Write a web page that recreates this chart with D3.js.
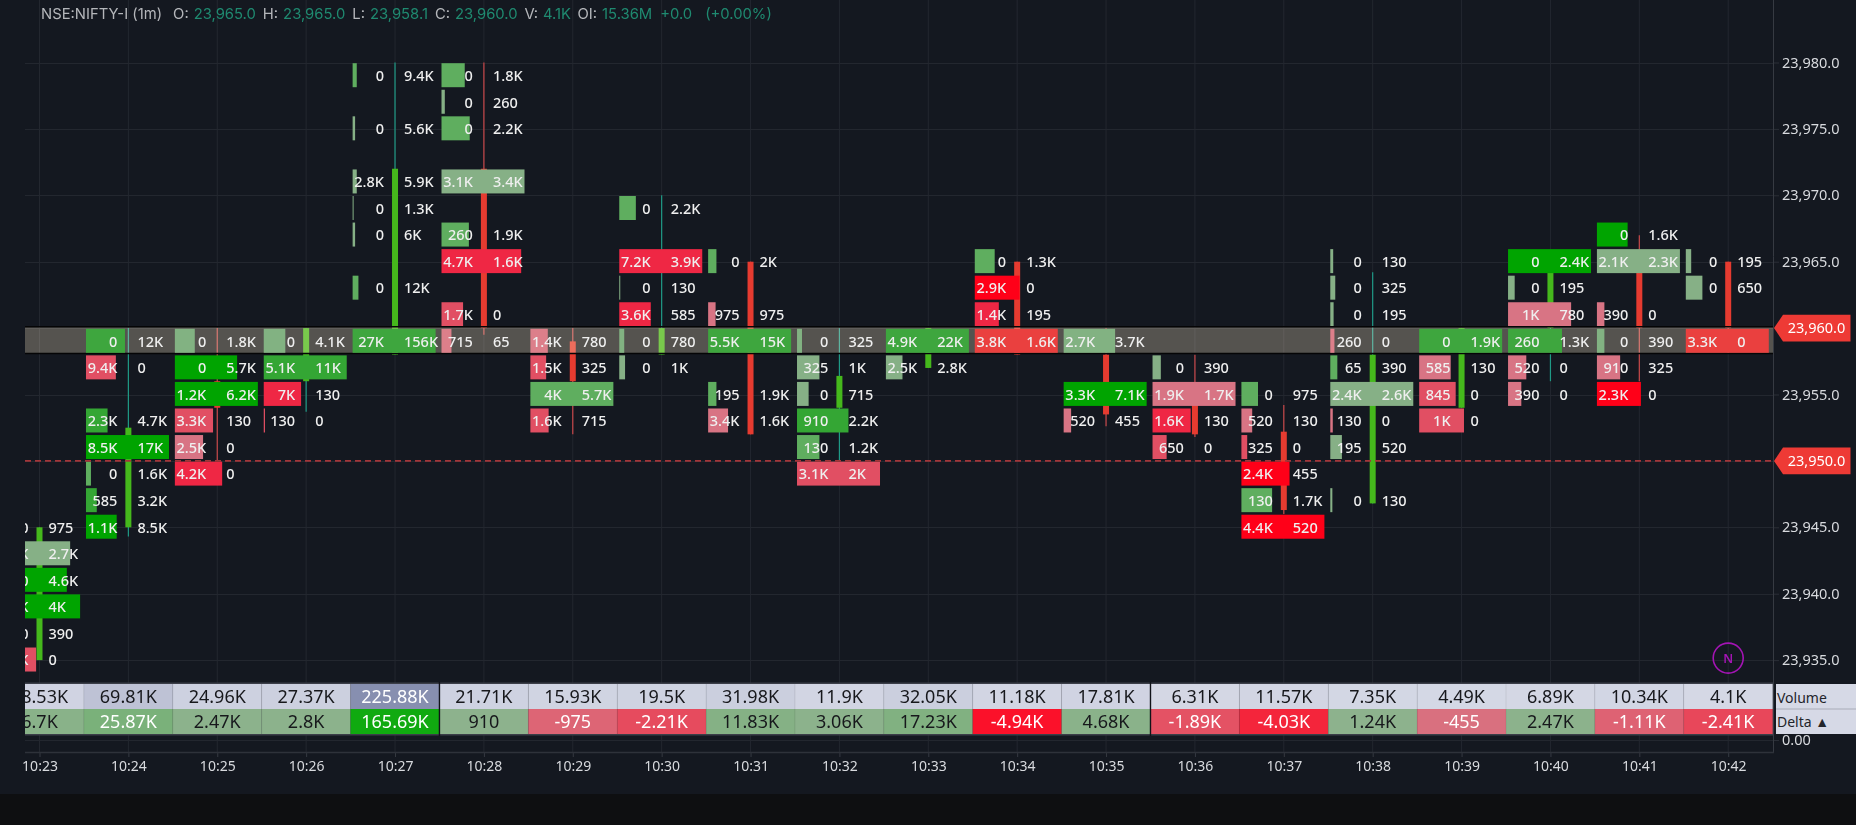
<!DOCTYPE html>
<html>
<head>
<meta charset="utf-8">
<script src="https://cdn.jsdelivr.net/npm/d3@7/dist/d3.min.js"></script>
<style>
  html, body { margin: 0; padding: 0; background: #0e0f11; }
  svg { display: block; }
  text { font-family: "Noto Sans", sans-serif; }
</style>
</head>
<body>
<svg id="chart" width="1856" height="825"></svg>
<script>
// Instrument header
const symbolName = "NSE:NIFTY-I (1m)";
const headerFields = [["O:", "23,965.0"], ["H:", "23,965.0"], ["L:", "23,958.1"], ["C:", "23,960.0"], ["V:", "4.1K"], ["OI:", "15.36M"]];
const headerChange = ["+0.0", "(+0.00%)"];

// One entry per one-minute bar
const minutes = ["10:23","10:24","10:25","10:26","10:27","10:28","10:29","10:30","10:31","10:32","10:33","10:34","10:35","10:36","10:37","10:38","10:39","10:40","10:41","10:42"];
const opens  = [23935,23945,23956,23956,23958,23972,23959,23958,23965,23954,23957,23965,23958,23955,23952.2,23946.8,23954,23960,23965,23965];
const closes = [23945,23952.5,23954,23960,23972,23960,23956,23960,23952,23956.4,23960,23958,23953.5,23952,23946.3,23958,23960,23965,23960,23960];
const highs  = [23945,23960,23960,23960,23980,23980,23960,23970,23965,23960,23960,23965,23960,23958,23954.2,23964.2,23960,23965,23967,23965];
const lows   = [23935,23944.3,23950,23953.7,23958,23959.5,23952,23958,23952,23950,23957,23958,23952.6,23951.8,23946,23946.8,23954,23956,23956,23958.1];
const volumeTotals = [18530,69810,24960,27370,225880,21710,15930,19500,31980,11900,32050,11180,17810,6310,11570,7350,4490,6890,10340,4100];
const deltaTotals  = [6700,25870,2470,2800,165690,910,-975,-2210,11830,3060,17230,-4940,4680,-1890,-4030,1240,-455,2470,-1110,-2410];

// Price levels of one bar: [price, sell volume, buy volume, share of the largest level, imbalance grade]
const levels1023 = [[23945,0,975,0.1,1],[23943,2400,2700,0.88,1],[23941,0,4600,0.84,4],[23939,1000,4000,1,4],[23937,0,390,0.1,1],[23935,1600,0,0.47,-2]];
const levels1024 = [[23959,0,12000,0.47,4],[23957,9400,0,0.36,-2],[23953,2300,4700,0.26,3],[23951,8500,17000,1,4],[23949,0,1600,0.06,2],[23947,585,3200,0.13,3],[23945,1100,8500,0.37,4]];
const levels1025 = [[23959,0,1800,0.24,1],[23957,0,5700,0.75,4],[23955,1200,6200,1,4],[23953,3300,130,0.46,-2],[23951,2500,0,0.34,-1],[23949,4200,0,0.57,-3]];
const levels1026 = [[23959,0,4100,0.26,1],[23957,5100,11000,1,3],[23955,7000,130,0.45,-3],[23953,130,0,0.015,-2]];
const levels1027 = [[23979,0,9400,0.05,2],[23975,0,5600,0.03,1],[23971,2800,5900,0.05,1],[23969,0,1300,0.012,1],[23967,0,6000,0.03,1],[23963,0,12000,0.07,2],[23959,27000,156000,1,4]];
const levels1028 = [[23979,0,1800,0.28,2],[23977,0,260,0.04,1],[23975,0,2200,0.34,2],[23971,3100,3400,1,1],[23967,260,1900,0.33,2],[23965,4700,1600,0.96,-3],[23961,1700,0,0.26,-2],[23959,715,65,0.12,-1]];
const levels1029 = [[23959,1400,780,0.21,-1],[23957,1500,325,0.19,-2],[23955,4000,5700,1,2],[23953,1600,715,0.22,-2]];
const levels1030 = [[23969,0,2200,0.2,2],[23965,7200,3900,1,-3],[23963,0,130,0.012,1],[23961,3600,585,0.38,-3],[23959,0,780,0.06,1],[23957,0,1000,0.07,1]];
const levels1031 = [[23965,0,2000,0.1,2],[23961,975,975,0.09,-1],[23959,5500,15000,1,4],[23955,195,1900,0.1,2],[23953,3400,1600,0.24,-1]];
const levels1032 = [[23959,0,325,0.06,1],[23957,325,1000,0.27,1],[23955,0,715,0.14,1],[23953,910,2200,0.62,3],[23951,130,1200,0.27,2],[23949,3100,2000,1,-2]];
const levels1033 = [[23959,4900,22000,1,4],[23957,2500,2800,0.2,1]];
const levels1034 = [[23965,0,1300,0.24,2],[23963,2900,0,0.54,-4],[23961,1400,195,0.29,-3],[23959,3800,1600,1,-3]];
const levels1035 = [[23959,2700,3700,0.62,1],[23955,3300,7100,1,4],[23953,520,455,0.09,-1]];
const levels1036 = [[23957,0,390,0.1,1],[23955,1900,1700,1,-1],[23953,1600,130,0.46,-3],[23951,650,0,0.17,-2]];
const levels1037 = [[23955,0,975,0.2,2],[23953,520,130,0.13,-1],[23951,325,0,0.07,-2],[23949,2400,455,0.58,-4],[23947,130,1700,0.37,2],[23945,4400,520,1,-4]];
const levels1038 = [[23965,0,130,0.035,1],[23963,0,325,0.06,1],[23961,0,195,0.04,1],[23959,260,0,0.05,-1],[23957,65,390,0.085,2],[23955,2400,2600,1,1],[23953,130,0,0.03,-1],[23951,195,520,0.14,1],[23947,0,130,0.025,1]];
const levels1039 = [[23959,0,1900,1,4],[23957,585,130,0.38,-1],[23955,845,0,0.44,-2],[23953,1000,0,0.54,-2]];
const levels1040 = [[23965,0,2400,1,4],[23963,0,195,0.08,1],[23961,1000,780,0.76,-1],[23959,260,1300,0.65,4],[23957,520,0,0.22,-1],[23955,390,0,0.16,-1]];
const levels1041 = [[23967,0,1600,0.37,4],[23965,2100,2300,1,1],[23961,390,0,0.09,-1],[23959,0,390,0.09,1],[23957,910,325,0.28,-1],[23955,2300,0,0.53,-4]];
const levels1042 = [[23965,0,195,0.065,1],[23963,0,650,0.2,1],[23959,3300,0,1,-3]];
const barLevels = [levels1023,levels1024,levels1025,levels1026,levels1027,levels1028,levels1029,levels1030,levels1031,levels1032,levels1033,levels1034,levels1035,levels1036,levels1037,levels1038,levels1039,levels1040,levels1041,levels1042];

// Axis, reference lines and table breaks
const priceTicks = [23935,23940,23945,23950,23955,23960,23965,23970,23975,23980];
const priceMarkers = [23960, 23950];
const currentLevel = 23959;
const levelStep = 2;
const sessionBreaks = [5, 13];
const tableRowNames = ["Volume", "Delta ▲"];

const gradeColors = new Map([
  [4,"#00a400"],[3,"#34a634"],[2,"#5fae5f"],[1,"#86b086"],
  [-1,"#d87484"],[-2,"#e14f63"],[-3,"#ef2744"],[-4,"#ff0018"]
]);
// The same grades where they sit on the highlighted row
const rowGradeColors = new Map([
  [4,"#3ea63e"],[3,"#3ea63e"],[2,"#5fae5f"],[1,"#82b282"],
  [-1,"#dc7f8a"],[-2,"#e14f63"],[-3,"#ea403f"],[-4,"#ea403f"]
]);

const W = 1856, PLOT_L = 25, PLOT_R = 1773, TABLE_T = 684, TABLE_M = 709, TABLE_B = 734, AXIS_Y = 752, FOOT_Y = 794;
const BAR_SPAN = 83, BAR_LEFT = 42.4, BODY_W = 6;

const x = d3.scaleLinear().domain([0, 19]).range([39.5, 1728.2]);
const y = d3.scaleLinear().domain([23965, 23945]).range([261.7, 527.3]);
const zeroY = d3.scaleLinear().domain([0, 1]).range([740, 729]);
const spanX = d3.scaleLinear().domain([0, 1]).range([0, BAR_SPAN]);
const colW = x(1) - x(0);
const rowGap = y(currentLevel - levelStep) - y(currentLevel);

const volumeFill = d3.scaleLinear().domain([0, 225880]).range(["#d6d9e6", "#878fb0"]);
const lossFill = d3.scaleLinear().domain([0, 5000]).range(["#d67a88", "#fb1029"]).clamp(true);
const gainFill = d3.scaleLinear().domain([0, 165690]).range(["#8eb28e", "#10aa10"]);

function compact(v) {
  const a = Math.abs(v);
  if (a < 1000) return String(v);
  const digits = a >= 10000 ? 0 : 1;
  return (v / 1000).toFixed(digits).replace(/\.0$/, "") + "K";
}
function totalLabel(v) {
  const a = Math.abs(v);
  if (a < 1000) return String(v);
  return String(+(v / 1000).toFixed(2)) + "K";
}

const svg = d3.select("#chart").attr("viewBox", `0 0 ${W} 825`);
const defs = svg.append("defs");
defs.append("clipPath").attr("id", "plot-clip").append("rect")
  .attr("x", PLOT_L).attr("y", 0).attr("width", PLOT_R - PLOT_L).attr("height", TABLE_T);
defs.append("clipPath").attr("id", "table-clip").append("rect")
  .attr("x", PLOT_L).attr("y", TABLE_T - 2).attr("width", PLOT_R - PLOT_L).attr("height", TABLE_B - TABLE_T + 4);

// Backdrop
svg.append("rect").attr("width", W).attr("height", 825).attr("fill", "#0e0f11");
svg.append("rect").attr("width", W).attr("height", FOOT_Y).attr("fill", "#141820");

// Grid
const grid = svg.append("g").attr("stroke", "#23272f").attr("stroke-width", 1);
grid.selectAll("line.v").data(minutes).join("line").attr("class", "v")
  .attr("x1", (d, i) => x(i)).attr("x2", (d, i) => x(i)).attr("y1", 0).attr("y2", AXIS_Y);
grid.selectAll("line.h").data(priceTicks).join("line").attr("class", "h")
  .attr("x1", PLOT_L).attr("x2", PLOT_R).attr("y1", d => Math.round(y(d)) + .5).attr("y2", d => Math.round(y(d)) + .5);
grid.append("line").attr("x1", PLOT_L).attr("x2", PLOT_R).attr("y1", zeroY(0) + .5).attr("y2", zeroY(0) + .5);

// Candles
const plot = svg.append("g").attr("clip-path", "url(#plot-clip)");
const isUp = i => closes[i] >= opens[i];
plot.selectAll("line.wick").data(minutes).join("line").attr("class", "wick")
  .attr("x1", (d, i) => x(i)).attr("x2", (d, i) => x(i))
  .attr("y1", (d, i) => y(highs[i])).attr("y2", (d, i) => y(lows[i]))
  .attr("stroke", (d, i) => isUp(i) ? "#1f9a86" : "#c8484a").attr("stroke-width", 1.2);
plot.selectAll("rect.body").data(minutes).join("rect").attr("class", "body")
  .attr("x", (d, i) => x(i) - BODY_W / 2).attr("width", BODY_W)
  .attr("y", (d, i) => y(Math.max(opens[i], closes[i])))
  .attr("height", (d, i) => Math.abs(y(opens[i]) - y(closes[i])))
  .attr("fill", (d, i) => isUp(i) ? "#45b81c" : "#e63b30");

// Footprint bars for each price level
const flat = barLevels.flatMap((rows, i) => rows.map(r => ({ i, price: r[0], sell: r[1], buy: r[2], share: r[3], grade: r[4] })));
const levelTop = d => y(d.price + levelStep / 2) + 0.7;
const drawLevels = (parent, rows, palette) => parent.selectAll("rect.level").data(rows).join("rect").attr("class", "level")
  .attr("x", d => x(d.i) - BAR_LEFT).attr("y", levelTop)
  .attr("width", d => spanX(d.share)).attr("height", 24)
  .attr("fill", d => palette.get(d.grade));
drawLevels(plot, flat.filter(d => d.price !== currentLevel), gradeColors);

// Highlighted row of the last traded level, lightening what lies beneath it
const rowTop = y(currentLevel + levelStep / 2) - 1.4, rowH = rowGap + 0.2;
svg.append("rect").attr("x", PLOT_L).attr("width", PLOT_R - PLOT_L)
  .attr("y", rowTop).attr("height", rowH)
  .attr("fill", "rgb(71,65,54)").style("mix-blend-mode", "screen");
svg.append("g").attr("stroke", "#050506").attr("stroke-width", 1.6)
  .selectAll("line").data([rowTop, rowTop + rowH]).join("line")
  .attr("x1", PLOT_L).attr("x2", PLOT_R).attr("y1", d => d).attr("y2", d => d);
drawLevels(svg.append("g").attr("clip-path", "url(#plot-clip)"), flat.filter(d => d.price === currentLevel), rowGradeColors);

// Reference price line
svg.append("line").attr("x1", PLOT_L).attr("x2", PLOT_R)
  .attr("y1", y(priceMarkers[1])).attr("y2", y(priceMarkers[1]))
  .attr("stroke", "#a3363a").attr("stroke-width", 1.6).attr("stroke-dasharray", "6 4");

// Sell and buy volumes beside each bar centre
const valueText = svg.append("g").attr("clip-path", "url(#plot-clip)")
  .attr("fill", "#efefef").attr("font-size", 14.5).attr("font-weight", 500);
valueText.selectAll("text.sell").data(flat).join("text").attr("class", "sell")
  .attr("x", d => x(d.i) - 11).attr("y", d => y(d.price)).attr("dy", "0.36em")
  .attr("text-anchor", "end").text(d => compact(d.sell));
valueText.selectAll("text.buy").data(flat).join("text").attr("class", "buy")
  .attr("x", d => x(d.i) + 9).attr("y", d => y(d.price)).attr("dy", "0.36em")
  .text(d => compact(d.buy));

// Volume and delta table
const table = svg.append("g").attr("clip-path", "url(#table-clip)");
table.append("rect").attr("x", PLOT_L).attr("width", PLOT_R - PLOT_L).attr("y", TABLE_T - 1.5)
  .attr("height", TABLE_B - TABLE_T + 3).attr("fill", "#3b3e48");
table.selectAll("rect.vol").data(volumeTotals).join("rect").attr("class", "vol")
  .attr("x", (d, i) => x(i) - colW / 2).attr("width", colW).attr("y", TABLE_T).attr("height", TABLE_M - TABLE_T)
  .attr("fill", d => volumeFill(d));
table.selectAll("rect.del").data(deltaTotals).join("rect").attr("class", "del")
  .attr("x", (d, i) => x(i) - colW / 2).attr("width", colW).attr("y", TABLE_M).attr("height", TABLE_B - TABLE_M)
  .attr("fill", d => d < 0 ? lossFill(-d) : gainFill(d));
table.selectAll("line.cell").data(minutes).join("line").attr("class", "cell")
  .attr("x1", (d, i) => x(i) - colW / 2).attr("x2", (d, i) => x(i) - colW / 2)
  .attr("y1", TABLE_T).attr("y2", TABLE_B)
  .attr("stroke", "#000").attr("stroke-opacity", 0.07);
table.selectAll("line.break").data(sessionBreaks).join("line").attr("class", "break")
  .attr("x1", d => x(d) - colW / 2).attr("x2", d => x(d) - colW / 2)
  .attr("y1", TABLE_T - 2).attr("y2", TABLE_B + 2)
  .attr("stroke", "#111319").attr("stroke-width", 1.4);
table.selectAll("text.vol").data(volumeTotals).join("text").attr("class", "vol")
  .attr("x", (d, i) => x(i)).attr("y", (TABLE_T + TABLE_M) / 2).attr("dy", "0.36em")
  .attr("text-anchor", "middle").attr("font-size", 18)
  .attr("fill", d => d > 150000 ? "#fff" : "#17181c").text(totalLabel);
table.selectAll("text.del").data(deltaTotals).join("text").attr("class", "del")
  .attr("x", (d, i) => x(i)).attr("y", (TABLE_M + TABLE_B) / 2).attr("dy", "0.36em")
  .attr("text-anchor", "middle").attr("font-size", 18)
  .attr("fill", d => (d < 0 || d > 20000) ? "#fff" : "#17181c").text(totalLabel);

// Row captions to the right of the table
const captions = svg.append("g");
captions.append("rect").attr("x", PLOT_R + 3).attr("width", W - PLOT_R - 3)
  .attr("y", TABLE_T).attr("height", TABLE_B - TABLE_T).attr("fill", "#d6d9e6");
captions.append("line").attr("x1", PLOT_R + 3).attr("x2", W).attr("y1", TABLE_M).attr("y2", TABLE_M)
  .attr("stroke", "#a9acb8");
captions.selectAll("text").data(tableRowNames).join("text")
  .attr("x", PLOT_R + 4).attr("y", (d, i) => i ? (TABLE_M + TABLE_B) / 2 : (TABLE_T + TABLE_M) / 2 + 1).attr("dy", "0.36em")
  .attr("font-size", 14).attr("fill", "#23252b").text(d => d);

// Axes: prices with a tag carry their label on the tag instead
const priceAxis = d3.axisRight(y).tickValues(priceTicks).tickFormat(d3.format(",.1f")).tickSize(6).tickPadding(3);
const axisR = svg.append("g").attr("transform", `translate(${PLOT_R},0)`).call(priceAxis);
axisR.select(".domain").remove();
axisR.selectAll("line").attr("stroke", "#2a2e36");
axisR.selectAll("text").attr("fill", "#d8dade").attr("font-size", 14.5).attr("font-family", '"Noto Sans", sans-serif');
axisR.selectAll(".tick").filter(d => priceMarkers.includes(d)).select("text").remove();

const zeroAxis = d3.axisRight(zeroY).tickValues([0]).tickFormat(d3.format(".2f")).tickSize(6).tickPadding(3);
const axisZ = svg.append("g").attr("transform", `translate(${PLOT_R},0)`).call(zeroAxis);
axisZ.select(".domain").remove();
axisZ.selectAll("line").attr("stroke", "#2a2e36");
axisZ.selectAll("text").attr("fill", "#d8dade").attr("font-size", 14.5).attr("font-family", '"Noto Sans", sans-serif');

svg.append("line").attr("x1", PLOT_R + .5).attr("x2", PLOT_R + .5).attr("y1", 0).attr("y2", AXIS_Y)
  .attr("stroke", "#363a42");

const timeAxis = d3.axisBottom(x).tickValues(d3.range(minutes.length)).tickFormat(i => minutes[i]).tickSize(5).tickPadding(4);
const axisB = svg.append("g").attr("transform", `translate(0,${AXIS_Y})`).call(timeAxis);
axisB.select(".domain").remove();
axisB.selectAll("line").attr("stroke", "#363a42");
axisB.selectAll("text").attr("fill", "#d8dade").attr("font-size", 14).attr("font-family", '"Noto Sans", sans-serif');
svg.append("line").attr("x1", PLOT_L).attr("x2", PLOT_R + 1).attr("y1", AXIS_Y + .5).attr("y2", AXIS_Y + .5)
  .attr("stroke", "#2e323a").attr("stroke-width", 1.5);

// Price tags on the axis
const tag = svg.selectAll("g.tag").data(priceMarkers).join("g").attr("class", "tag")
  .attr("transform", d => `translate(${PLOT_R + 1},${y(d)})`);
tag.append("path").attr("d", "M0 0L9 -13.4H76.5V13.4H9Z").attr("fill", "#ee3a35");
tag.append("text").attr("x", 42.5).attr("dy", "0.36em").attr("text-anchor", "middle")
  .attr("font-size", 14.5).attr("fill", "#fff").text(d3.format(",.1f"));

// Event marker
const marker = svg.append("g").attr("transform", `translate(${x(19)},${y(23935) - 2})`);
marker.append("circle").attr("r", 15).attr("fill", "none").attr("stroke", "#a414b4").attr("stroke-width", 1.6);
marker.append("text").attr("dy", "0.36em").attr("text-anchor", "middle").attr("font-size", 12.5)
  .attr("font-weight", 600).attr("fill", "#a414b4").text("N");

// Header line
const header = svg.append("text").attr("x", 41).attr("y", 19).attr("font-size", 14.8)
  .style("font-family", "Inter, sans-serif").attr("xml:space", "preserve");
header.append("tspan").attr("fill", "#b4b6ba").text(symbolName);
headerFields.forEach(([name, value], i) => {
  header.append("tspan").attr("dx", i ? 7 : 11).attr("fill", "#b4b6ba").text(name);
  header.append("tspan").attr("dx", 5).attr("fill", "#1f8a70").text(value);
});
header.append("tspan").attr("dx", 8).attr("fill", "#1f8a70").text(headerChange[0]);
header.append("tspan").attr("dx", 13).attr("fill", "#1f8a70").text(headerChange[1]);
</script>
</body>
</html>
